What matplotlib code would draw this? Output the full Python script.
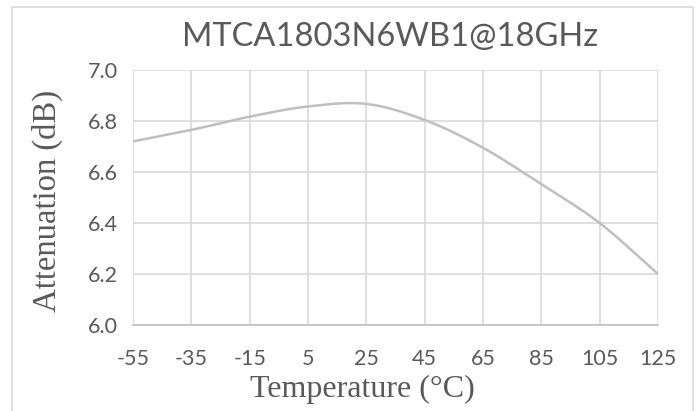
import numpy as np
import matplotlib.pyplot as plt
from matplotlib.patches import Rectangle

plt.rcParams['axes.unicode_minus'] = False

# data
temps = [-55, -35, -15, 5, 25, 45, 65, 85, 105, 125]
atten = [6.72, 6.765, 6.817, 6.857, 6.867, 6.804, 6.695, 6.552, 6.40, 6.20]
title = 'MTCA1803N6WB1@18GHz'

text_col = '#595959'
grid_col = '#D9D9D9'
line_col = '#BFBFBF'


def smooth(xs, ys, n=30):
    # catmull-rom style smoothing like excel's "smoothed line"
    xs = np.asarray(xs, float)
    ys = np.asarray(ys, float)
    px = np.concatenate([[2 * xs[0] - xs[1]], xs, [2 * xs[-1] - xs[-2]]])
    py = np.concatenate([[2 * ys[0] - ys[1]], ys, [2 * ys[-1] - ys[-2]]])
    outx, outy = [], []
    t = np.linspace(0, 1, n)
    for i in range(1, len(px) - 2):
        for arr, out in ((px, outx), (py, outy)):
            p0, p1, p2, p3 = arr[i - 1], arr[i], arr[i + 1], arr[i + 2]
            c1 = p1 + (p2 - p0) / 6
            c2 = p2 - (p3 - p1) / 6
            b = ((1 - t) ** 3 * p1 + 3 * (1 - t) ** 2 * t * c1
                 + 3 * (1 - t) * t ** 2 * c2 + t ** 3 * p2)
            out.extend(b)
    return np.array(outx), np.array(outy)


fig = plt.figure(figsize=(6.98, 4.11), dpi=100)
ax = fig.add_axes([133 / 698, 86 / 411, 525 / 698, 255 / 411])

sx, sy = smooth(temps, atten)
ax.plot(sx, sy, color=line_col, lw=1.8, solid_capstyle='butt')

ax.set_xlim(-55, 125)
ax.set_ylim(6.0, 7.0)
ax.set_xticks(temps)
ax.set_yticks(np.arange(6.0, 7.01, 0.2))
ax.set_yticklabels(['%.1f' % v for v in np.arange(6.0, 7.01, 0.2)])
ax.grid(True, color=grid_col, lw=1.2)
ax.set_axisbelow(True)
for s in ['top', 'right', 'left']:
    ax.spines[s].set_visible(False)
ax.spines['bottom'].set_color(line_col)
ax.spines['bottom'].set_linewidth(1.2)
ax.tick_params(length=0, labelsize=15.5, labelcolor=text_col)
ax.tick_params(axis='x', pad=17)
ax.tick_params(axis='y', pad=11)
for lab in ax.get_xticklabels() + ax.get_yticklabels():
    lab.set_family('Lato')

ax.set_xlabel('Temperature (°C)', family='Liberation Serif', fontsize=23,
              color=text_col)
ax.xaxis.set_label_coords(229 / 525, -50 / 255)
ax.set_ylabel('Attenuation (dB)', family='Liberation Serif', fontsize=23.5,
              color=text_col)
ax.yaxis.set_label_coords(-70 / 525, 124 / 255)
fig.text(390 / 698, 1 - 37 / 411, title, family='Lato', fontsize=23.5,
         color=text_col, ha='center', va='center')

# chart border
fig.patches.append(Rectangle((12 / 698, -0.1), 681 / 698, 1 - 7 / 411 + 0.1,
                             transform=fig.transFigure, fill=False,
                             ec='#D9D9D9', lw=1.2))

fig.savefig('out.png', dpi=100)
